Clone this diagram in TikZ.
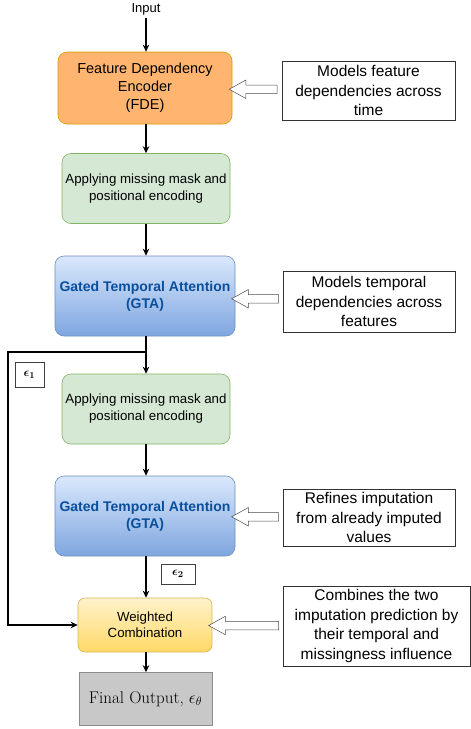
\documentclass[tikz,border=0pt]{standalone}
\usepackage{amsmath}
\usepackage{amssymb}
\usepackage{fontspec}
\setmainfont{Latin Modern Roman}
\newfontfamily\boxfont{Liberation Sans}
\usepackage{tikz}
\usetikzlibrary{arrows.meta, shapes.arrows, calc}

\definecolor{fdefill}{HTML}{FFB570}
\definecolor{fdeline}{HTML}{D79B00}
\definecolor{maskfill}{HTML}{D5E8D4}
\definecolor{maskline}{HTML}{82B366}
\definecolor{gtatop}{HTML}{DAE8FC}
\definecolor{gtabot}{HTML}{7EA6E0}
\definecolor{gtaline}{HTML}{6C8EBF}
\definecolor{gtatext}{HTML}{0B4F9C}
\definecolor{wctop}{HTML}{FFF2CC}
\definecolor{wcbot}{HTML}{FFD966}
\definecolor{wcline}{HTML}{D6B656}
\definecolor{outfill}{HTML}{C8C8C8}
\definecolor{outline}{HTML}{8C8C8C}

\tikzset{
  block/.style={rounded corners=9pt, align=center, line width=0.6pt},
  note/.style={draw=black!80, fill=white, align=center, line width=0.6pt,
    font=\boxfont\fontsize{15.5}{19.5}\selectfont},
  epsbox/.style={draw=black!75, fill=white, line width=0.6pt, inner sep=0pt, font=\fontsize{13}{14}\selectfont},
  hollowarrow/.style={single arrow, draw=black!70, fill=white, line width=0.5pt,
    shape border rotate=180, inner sep=4pt, single arrow head extend=5pt,
    single arrow tip angle=58},
  flow/.style={-{Stealth[length=7pt,width=6.5pt]}, line width=1.3pt}
}

\begin{document}
\begin{tikzpicture}[x=1pt, y=-1pt]
    \useasboundingbox (0,0) rectangle (471,729);

    \node[font=\boxfont\fontsize{13}{15}\selectfont] (in) at (146, 9){Input};
    \node[block, draw=fdeline, fill=fdefill, minimum width=174pt, minimum height=72pt,
      font=\boxfont\fontsize{14.5}{18}\selectfont] (fde) at (145, 88){Feature Dependency\\Encoder\\(FDE)};
    \node[block, draw=maskline, fill=maskfill, minimum width=168pt, minimum height=70pt,
      font=\boxfont\fontsize{13.3}{17}\selectfont] (maskA) at (146, 188.5){Applying missing mask and\\positional encoding};
    \node[block, draw=gtaline, top color=gtatop, bottom color=gtabot, minimum width=180pt, minimum height=80pt,
      text=gtatext, font=\boxfont\bfseries\fontsize{14}{17}\selectfont] (gtaA) at (145, 296){Gated Temporal Attention\\(GTA)};
    \node[block, draw=maskline, fill=maskfill, minimum width=168pt, minimum height=70pt,
      font=\boxfont\fontsize{13.3}{17}\selectfont] (maskB) at (146, 409){Applying missing mask and\\positional encoding};
    \node[block, draw=gtaline, top color=gtatop, bottom color=gtabot, minimum width=180pt, minimum height=80pt,
      text=gtatext, font=\boxfont\bfseries\fontsize{14}{17}\selectfont] (gtaB) at (145, 516){Gated Temporal Attention\\(GTA)};
    \node[block, rounded corners=7pt, draw=wcline, top color=wctop, bottom color=wcbot, minimum width=134pt, minimum height=54pt,
      font=\boxfont\fontsize{13.3}{16}\selectfont] (wc) at (145, 625){Weighted\\Combination};
    \node[draw=outline, fill=outfill, minimum width=133pt, minimum height=53pt, line width=0.6pt,
      font=\fontsize{17}{20}\selectfont] (out) at (145.5, 699){Final Output, $\epsilon_\theta$};

    \node[note, minimum width=173pt, minimum height=59pt] (noteA) at (368.5, 90.5){Models feature\\dependencies across\\time};
    \node[note, minimum width=172pt, minimum height=61pt] (noteB) at (369, 301.5){Models temporal\\dependencies across\\features};
    \node[note, minimum width=172pt, minimum height=57pt] (noteC) at (369, 517.5){Refines imputation\\from already imputed\\values};
    \node[note, minimum width=187pt, minimum height=76pt] (noteD) at (376.5, 626){Combines the two\\imputation prediction by\\their temporal and\\missingness influence};

    \node[epsbox, minimum width=29pt, minimum height=25pt] (epsA) at (29.5, 375){$\boldsymbol{\epsilon_1}$};
    \node[epsbox, minimum width=34pt, minimum height=20pt] (epsB) at (178, 574){$\boldsymbol{\epsilon_2}$};

    \node[hollowarrow, minimum height=48pt] (hA) at ($(fde.east)!0.5!(noteA.west)$){};
    \node[hollowarrow, minimum height=47pt] (hB) at ($(gtaA.east)!0.5!(noteB.west)$){};
    \node[hollowarrow, minimum height=47pt] (hC) at ($(gtaB.east)!0.5!(noteC.west)$){};
    \node[hollowarrow, minimum height=70pt] (hD) at ($(wc.east)!0.5!(noteD.west)$){};

    \coordinate (split) at (146, 352);

    \draw[flow] (in)--(fde.north -| in);
    \draw[flow] (fde.south -| in)--(maskA.north -| in);
    \draw[flow] (maskA.south -| in)--(gtaA.north -| in);
    \draw[flow] (gtaA.south -| in)--(maskB.north -| in);
    \draw[flow] (maskB.south -| in)--(gtaB.north -| in);
    \draw[flow] (gtaB.south -| in)--(wc.north -| in);
    \draw[flow] (wc.south -| in)--(out.north -| in);
    \draw[flow] (split)--(8, 352) |- (wc.west);
  \end{tikzpicture}
\end{document}
